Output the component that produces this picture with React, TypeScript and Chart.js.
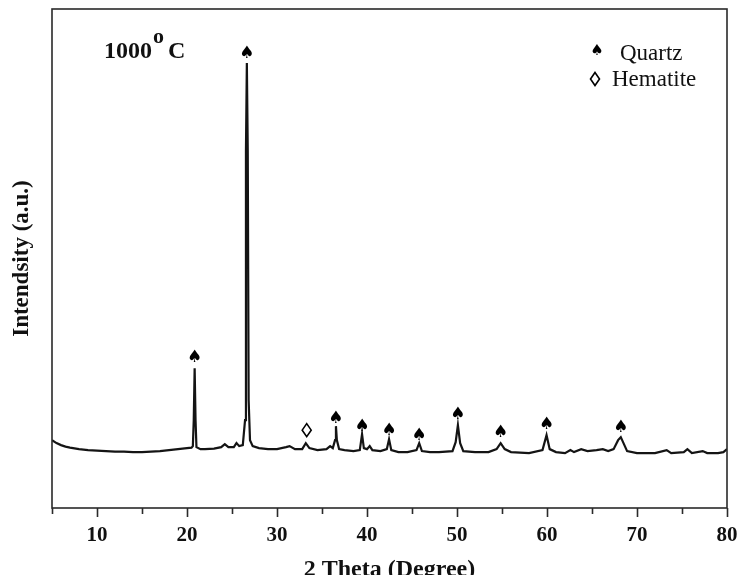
import React, { useEffect, useRef } from "react";
import { Chart, registerables } from "chart.js";

Chart.register(...registerables);

// 2θ positions (degree) of the measured trace
const twoTheta = [
  5, 5.5, 6, 6.5, 7, 8, 9, 10, 11, 12, 13, 14, 15, 16, 17, 18, 19, 20, 20.5,
  20.65, 20.75, 20.85, 20.95, 21.05, 21.5, 22, 23, 23.8, 24.2, 24.6, 25.2, 25.5,
  25.8, 26.2, 26.45, 26.55, 26.65, 26.75, 26.85, 27.0, 27.3, 28, 29, 30, 31,
  31.4, 32, 32.8, 33.2, 33.6, 34.5, 35.5, 35.9, 36.2, 36.45, 36.55, 36.65, 36.9,
  37.5, 38.5, 39.2, 39.45, 39.65, 40.0, 40.3, 40.6, 41.5, 42.2, 42.45, 42.7,
  43.5, 44.5, 45.5, 45.8, 46.1, 47, 48, 49.5, 49.85, 50.1, 50.35, 50.7, 52,
  53.5, 54.4, 54.85, 55.3, 56, 58, 59.5, 59.95, 60.3, 61, 62, 62.6, 63, 63.8,
  64.5, 65.5, 66.2, 66.8, 67.4, 67.9, 68.2, 68.5, 68.9, 70, 72, 73.3, 73.8,
  75.2, 75.6, 76.1, 77.3, 77.8, 79, 79.6, 80,
];

// intensity (a.u.) at each 2θ
const intensity = [
  68, 65, 63, 61.5, 60.5, 59, 58, 57.5, 57, 56.5, 56.5, 56, 56, 56.5, 57, 58,
  59, 60, 60.5, 62, 88, 140, 88, 61, 59, 59, 59.5, 61, 64, 61, 61, 65, 62, 63,
  88, 358, 446, 358, 108, 68, 62, 60, 59, 59, 61, 62, 59, 59, 65, 60, 58, 59,
  62, 60, 68, 82, 68, 59, 58, 57, 58, 74, 60, 59, 62, 58, 57, 59, 69, 58, 56,
  56, 58, 65, 57, 56, 56, 57, 66, 83, 65, 57, 56, 56, 59, 65, 59, 56, 55, 58,
  73, 59, 56, 55, 58, 56, 59, 57, 58, 59, 57, 59, 68, 71, 65, 57, 55, 55, 58,
  55, 56, 59, 55, 57, 55, 55, 56, 59,
];

// Phase markers: quartz (♠) and hematite (◊)
const quartzTheta = [20.85, 26.65, 36.55, 39.45, 42.45, 45.8, 50.1, 54.85, 59.95, 68.2];
const quartzMarkY = [151, 455, 90, 82, 78, 73, 94, 76, 84, 81];
const hematiteTheta = [33.3];
const hematiteMarkY = [78];

const xTickLabels = ["10", "20", "30", "40", "50", "60", "70", "80"];
const legendLabels = ["Quartz", "Hematite"];
const tempLabel = ["1000", "o", "C"];

const SERIF = "'Liberation Serif', 'Times New Roman', serif";

function drawSpade(ctx: CanvasRenderingContext2D, cx: number, cy: number, size: number) {
  ctx.save();
  ctx.fillStyle = "#000";
  ctx.font = `${size}px 'DejaVu Sans'`;
  ctx.textAlign = "center";
  ctx.textBaseline = "middle";
  ctx.fillText("\u2660", cx, cy);
  ctx.restore();
}

function drawDiamond(ctx: CanvasRenderingContext2D, cx: number, cy: number, w: number, h: number) {
  ctx.save();
  ctx.strokeStyle = "#000";
  ctx.lineWidth = 1.6;
  ctx.beginPath();
  ctx.moveTo(cx, cy - h / 2);
  ctx.lineTo(cx + w / 2, cy);
  ctx.lineTo(cx, cy + h / 2);
  ctx.lineTo(cx - w / 2, cy);
  ctx.closePath();
  ctx.stroke();
  ctx.restore();
}

const decorations = {
  id: "decorations",
  afterDraw(chart: any) {
    const { ctx, chartArea: a, scales } = chart;
    const x = scales.x;
    const y = scales.y;
    ctx.save();
    // frame
    ctx.strokeStyle = "#2a2a2a";
    ctx.lineWidth = 1.6;
    ctx.strokeRect(a.left, a.top, a.right - a.left, a.bottom - a.top);
    // tick marks (major every 10, minor every 5)
    x.ticks.forEach((t: any) => {
      const px = Math.round(x.getPixelForValue(t.value)) + 0.5;
      const len = t.value % 10 === 0 ? 9 : 6;
      ctx.beginPath();
      ctx.moveTo(px, a.bottom);
      ctx.lineTo(px, a.bottom + len);
      ctx.stroke();
    });
    // peak markers
    quartzTheta.forEach((t, i) => {
      drawSpade(ctx, x.getPixelForValue(t), y.getPixelForValue(quartzMarkY[i]), 17);
    });
    hematiteTheta.forEach((t, i) => {
      drawDiamond(ctx, x.getPixelForValue(t), y.getPixelForValue(hematiteMarkY[i]), 9, 13);
    });
    // legend
    drawSpade(ctx, 597, 51, 15);
    drawDiamond(ctx, 595, 79, 9, 13);
    ctx.fillStyle = "#111";
    ctx.textAlign = "left";
    ctx.textBaseline = "alphabetic";
    ctx.font = `23px ${SERIF}`;
    ctx.fillText(legendLabels[0], 620, 60);
    ctx.fillText(legendLabels[1], 612, 86);
    // temperature label
    ctx.font = `bold 24px ${SERIF}`;
    ctx.fillText(tempLabel[0], 104, 58);
    ctx.font = `bold 22px ${SERIF}`;
    ctx.fillText(tempLabel[1], 153, 43);
    ctx.font = `bold 24px ${SERIF}`;
    ctx.fillText(tempLabel[2], 168, 58);
    ctx.restore();
  },
};

export default function App() {
  const ref = useRef<HTMLCanvasElement | null>(null);

  useEffect(() => {
    if (!ref.current) return;
    const chart = new Chart(ref.current, {
      type: "line",
      data: {
        datasets: [
          {
            data: twoTheta.map((t, i) => ({ x: t, y: intensity[i] })),
            borderColor: "#141414",
            borderWidth: 2.2,
            pointRadius: 0,
            tension: 0,
            fill: false,
          },
        ],
      },
      options: {
        animation: false,
        responsive: false,
        maintainAspectRatio: false,
        layout: { padding: { top: 9, right: 10, left: 0, bottom: 0 } },
        plugins: { legend: { display: false }, tooltip: { enabled: false } },
        scales: {
          x: {
            type: "linear",
            min: 5,
            max: 80,
            afterFit: (s: any) => {
              s.height = 67;
              s.paddingLeft = 0;
              s.paddingRight = 0;
            },
            grid: { display: false, drawTicks: false },
            border: { display: false },
            ticks: {
              stepSize: 5,
              padding: 15,
              color: "#111",
              font: { family: SERIF, size: 21, weight: "bold" },
              callback: (v: any) => {
                const s = String(v);
                return xTickLabels.includes(s) ? s : "";
              },
            },
            title: {
              display: true,
              text: "2 Theta (Degree)",
              color: "#111",
              font: { family: SERIF, size: 24, weight: "bold", lineHeight: 0.4 },
              padding: { top: 0, bottom: 0 },
            },
          },
          y: {
            min: 0,
            max: 500,
            afterFit: (s: any) => {
              s.width = 52;
              s.paddingTop = 0;
              s.paddingBottom = 0;
            },
            grid: { display: false, drawTicks: false },
            border: { display: false },
            ticks: { display: false },
            title: {
              display: true,
              text: "Intendsity (a.u.)",
              color: "#111",
              font: { family: SERIF, size: 23, weight: "bold", lineHeight: 1.2 },
              padding: { top: 8, bottom: 0 },
            },
          },
        },
      },
      plugins: [decorations],
    });
    return () => chart.destroy();
  }, []);

  return (
    <div style={{ position: "fixed", left: 0, top: 0, width: 737, height: 575, background: "#fff" }}>
      <canvas ref={ref} width={737} height={575} style={{ width: 737, height: 575 }} />
    </div>
  );
}
